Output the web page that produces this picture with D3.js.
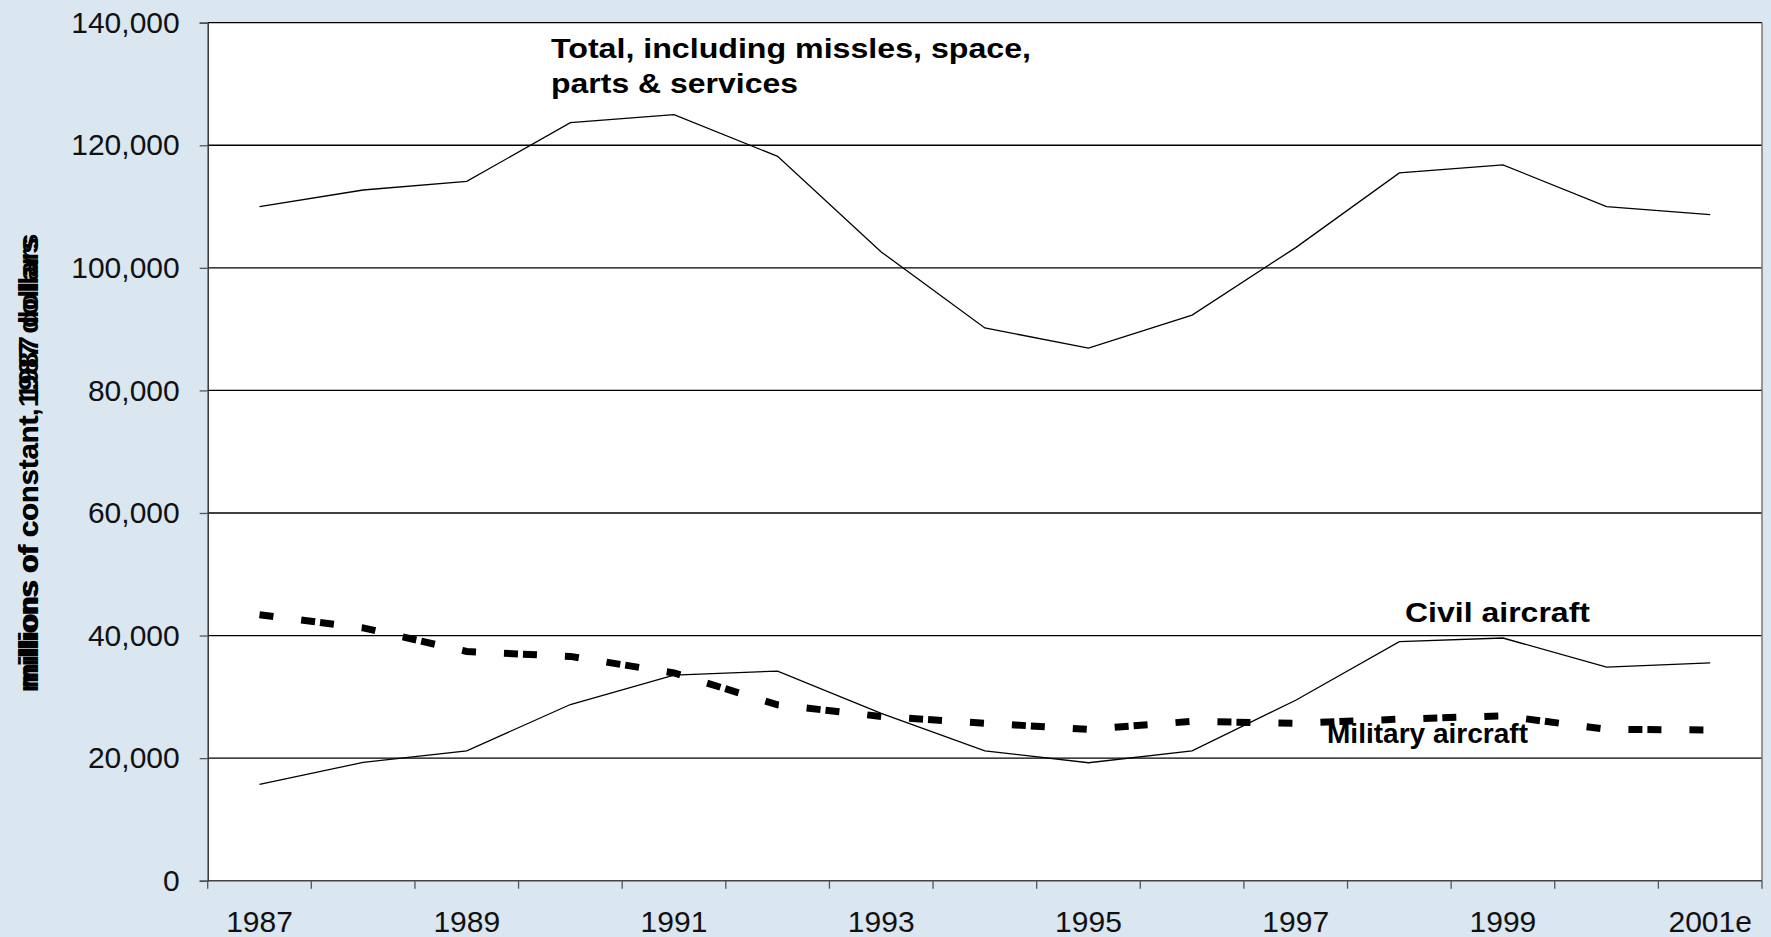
<!DOCTYPE html>
<html>
<head>
<meta charset="utf-8">
<script src="https://cdn.jsdelivr.net/npm/d3@7"></script>
<style>
  html, body { margin: 0; padding: 0; background: #dae6f0; }
  svg { display: block; }
  text { font-family: "Liberation Sans", Arial, Helvetica, sans-serif; }
</style>
</head>
<body>
<svg id="chart" width="1771" height="937"></svg>
<script>
// ---- data ----
const years = ["1987","1988","1989","1990","1991","1992","1993","1994","1995","1996","1997","1998","1999","2000","2001e"];
const totalValues    = [110000,112700,114100,123700,125000,118200,102600,90200,86900,92300,103300,115500,116800,110000,108700];
const civilValues    = [15700,19300,21200,28750,33550,34200,27300,21200,19250,21200,29450,39000,39600,34850,35550];
const militaryValues = [43400,41250,37400,36600,33900,28700,26800,25700,24700,26000,25700,26350,26900,24700,24600];
const yTickValues = [0,20000,40000,60000,80000,100000,120000,140000];
const xLabelYears = ["1987","1989","1991","1993","1995","1997","1999","2001e"];
const yTitleA = "millions of constant, 1987 dollars";
const yTitleB = "millions of constant 1987 dollars";

// ---- layout ----
const svg = d3.select("#chart");
const L = 207.7, R = 1762, T = 22.7, B = 880.7;

const x = d3.scaleBand().domain(years).range([L, R]).padding(0);
const y = d3.scaleLinear().domain([0, 140000]).range([B, T]);
const cx = d => x(d) + x.bandwidth() / 2;

// plot background
svg.append("rect").attr("x", L).attr("y", T).attr("width", R - L).attr("height", B - T).attr("fill", "#ffffff");

// gridlines
svg.append("g").selectAll("line").data(yTickValues.filter(v => v > 0)).join("line")
  .attr("x1", L).attr("x2", R).attr("y1", d => y(d)).attr("y2", d => y(d))
  .attr("stroke", "#000").attr("stroke-width", 1.3);

// right border
svg.append("line").attr("x1", R).attr("x2", R).attr("y1", T).attr("y2", B)
  .attr("stroke", "#777").attr("stroke-width", 1.5);

// y axis
const yAxis = d3.axisLeft(y).tickValues(yTickValues).tickSize(8).tickPadding(20).tickFormat(d3.format(","));
const gy = svg.append("g").attr("transform", `translate(${L},0)`).call(yAxis);
gy.select(".domain").attr("stroke", "#333").attr("stroke-width", 1.5);
gy.selectAll(".tick line").attr("stroke", "#555").attr("stroke-width", 1.3);
gy.selectAll(".tick text").attr("font-size", 30).attr("fill", "#111")
  .attr("font-family", "'Liberation Sans', Arial, sans-serif");

// x axis (ticks at category boundaries, labels every other category)
const boundaries = years.map(d => x(d)).concat([x.range()[1]]);
svg.append("line").attr("x1", L).attr("x2", R).attr("y1", B).attr("y2", B)
  .attr("stroke", "#444").attr("stroke-width", 1.5);
svg.append("g").selectAll("line").data(boundaries).join("line")
  .attr("x1", d => d).attr("x2", d => d).attr("y1", B).attr("y2", B + 8)
  .attr("stroke", "#555").attr("stroke-width", 1.3);
svg.append("g").selectAll("text").data(xLabelYears).join("text")
  .attr("x", d => cx(d)).attr("y", 931.5).attr("text-anchor", "middle")
  .attr("font-size", 30).attr("fill", "#111").text(d => d);

// lines
const lineGen = vals => d3.line().x((d, i) => cx(years[i])).y(d => y(d))(vals);

svg.append("path").attr("d", lineGen(totalValues))
  .attr("fill", "none").attr("stroke", "#000").attr("stroke-width", 1.3);
svg.append("path").attr("d", lineGen(civilValues))
  .attr("fill", "none").attr("stroke", "#000").attr("stroke-width", 1.3);
svg.append("path").attr("d", lineGen(militaryValues))
  .attr("fill", "none").attr("stroke", "#000").attr("stroke-width", 7)
  .attr("stroke-dasharray", "14,28,14,5,14,28").attr("stroke-linejoin", "miter");

// annotations
function label(txt, x0, yb, len, size) {
  svg.append("text").attr("x", x0).attr("y", yb).attr("font-size", size)
    .attr("font-weight", "bold").attr("fill", "#000")
    .attr("textLength", len).attr("lengthAdjust", "spacingAndGlyphs").text(txt);
}
label("Total, including missles, space,", 551, 58, 480, 28);
label("parts & services", 551, 93, 247, 28);
label("Civil aircraft", 1405, 621.5, 185, 28);
label("Military aircraft", 1327, 742.5, 201, 27.5);

// y axis title (overprinted, as in the original)
[[yTitleA, 0], [yTitleB, 4]].forEach(([t, off]) => {
  svg.append("text")
    .attr("transform", `translate(38,${461 + off}) rotate(-90)`)
    .attr("text-anchor", "middle").attr("font-size", 28).attr("font-weight", "bold")
    .attr("fill", "#000").attr("textLength", 455).attr("lengthAdjust", "spacingAndGlyphs")
    .text(t);
});
</script>
</body>
</html>
